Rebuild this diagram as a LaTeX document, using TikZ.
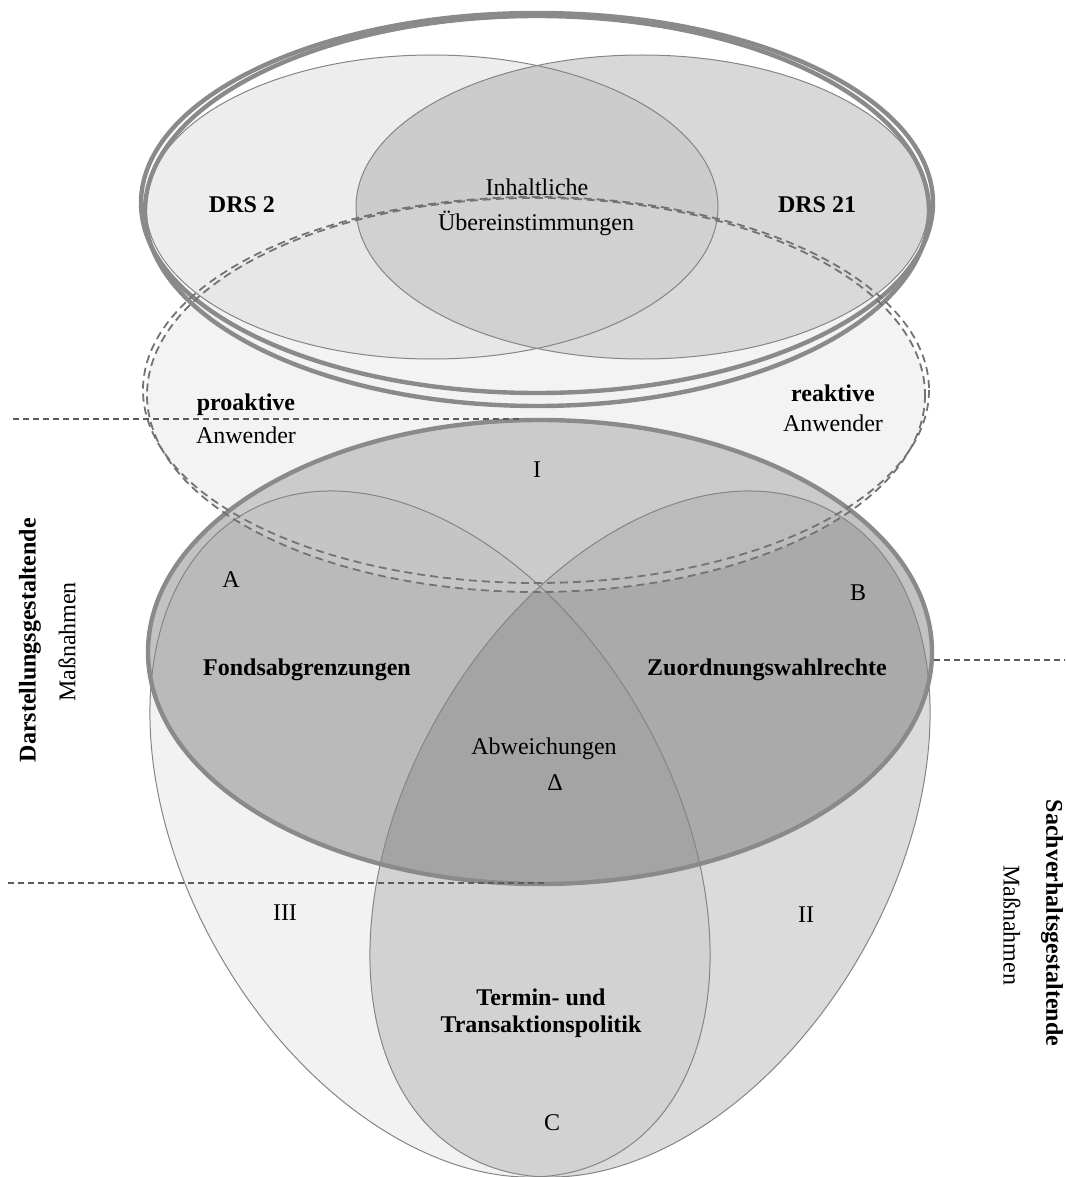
\documentclass[tikz,border=0pt]{standalone}
\usepackage{fontspec}
\setmainfont{Liberation Serif}

% fill tones (all fills are laid on with the same transparency)
\definecolor{fillA}{gray}{0.855}
\definecolor{fillB}{gray}{0.592}
\definecolor{fillBig}{gray}{0.318}
\definecolor{fillDrsL}{gray}{0.796}
\definecolor{fillDrsR}{gray}{0.561}
\definecolor{fillDash}{gray}{0.863}
% stroke tones
\definecolor{linegray}{gray}{0.52}
\definecolor{thickgray}{gray}{0.54}
\definecolor{dashgray}{gray}{0.45}
\definecolor{guidegray}{gray}{0.36}

\begin{document}
\begin{tikzpicture}[x=1pt,y=-1pt,
  every node/.style={inner sep=0pt, font=\fontsize{24}{28}\selectfont},
  bold/.style={font=\fontsize{24}{28}\selectfont\bfseries},
  veil/.style={fill opacity=0.35},
  thinline/.style={draw=linegray, line width=1pt},
  thickline/.style={draw=thickgray, line width=4.4pt},
  dashring/.style={draw=dashgray, line width=1.8pt, dash pattern=on 8pt off 5pt},
  guide/.style={draw=guidegray, line width=2pt, dash pattern=on 6pt off 4pt},
  tiltA/.style={rotate around={-60:(430,834)}},
  tiltB/.style={rotate around={60:(650,834)}},
]
\useasboundingbox (0,0) rectangle (1065,1177);

% ---- fills ----------------------------------------------------------
\fill[fillA, veil, tiltA] (430,834) ellipse (370.4 and 242.6);
\fill[fillB, veil, tiltB] (650,834) ellipse (370.4 and 242.6);
\fill[fillBig, veil] (540,652) ellipse (392 and 232);
\fill[fillDrsL, veil] (432,207) ellipse (286 and 152);
\fill[fillDrsR, veil] (642,207) ellipse (286 and 152);
\fill[fillDash, veil] (536,395) ellipse (390 and 197);

% ---- outlines -------------------------------------------------------
\draw[thinline, tiltA] (430,834) ellipse (370.4 and 242.6);
\draw[thinline, tiltB] (650,834) ellipse (370.4 and 242.6);
\draw[thinline] (432,207) ellipse (286 and 152);
\draw[thinline] (642,207) ellipse (286 and 152);

\draw[thickline] (540,652) ellipse (392 and 232);
\draw[thickline] (537,203) ellipse (396 and 190);
\draw[thickline] (537,211) ellipse (392 and 195);

\draw[dashring] (536,390) ellipse (393 and 193);
\draw[dashring] (536,395) ellipse (389 and 197);

% ---- dashed guide lines ---------------------------------------------
\coordinate (gTopL) at (13,419);
\coordinate (gTopR) at (519,419);
\coordinate (gBotL) at (8,883);
\coordinate (gBotR) at (548,883);
\coordinate (gMidL) at (934,660);
\coordinate (gMidR) at (1065,660);
\draw[guide] (gTopL) -- (gTopR);
\draw[guide] (gBotL) -- (gBotR);
\draw[guide] (gMidL) -- (gMidR);

% ---- labels ---------------------------------------------------------
\node[bold] (drsl) at (242,205) {DRS 2};
\node[bold] (drsr) at (817,205) {DRS 21};
\node (inh1) at (537,187) {Inhaltliche};
\node (inh2) at (536,223) {Übereinstimmungen};
\node[bold] (pro) at (246,405) {proaktive};
\node (proA) at (246,435) {Anwender};
\node[bold] (rea) at (833,393) {reaktive};
\node (reaA) at (833,423) {Anwender};
\node (rI) at (537,470) {I};
\node (rA) at (231,580) {A};
\node (rB) at (858,593) {B};
\node[bold] (fonds) at (307,670) {Fondsabgrenzungen};
\node[bold] (zuord) at (767,670) {Zuordnungswahlrechte};
\node (abw) at (544,749) {Abweichungen};
\node (delta) at (555,783) {Δ};
\node (rIII) at (285,913) {III};
\node (rII) at (806,915) {II};
\node[bold] (term1) at (541,997) {Termin- und};
\node[bold] (term2) at (541,1027) {Transaktionspolitik};
\node (rC) at (552,1123) {C};
\node[bold, rotate=90] (darst) at (30,640) {Darstellungsgestaltende};
\node[rotate=90] (massL) at (67,642) {Maßnahmen};
\node[bold, rotate=-90] (sach) at (1052,923) {Sachverhaltsgestaltende};
\node[rotate=-90] (massR) at (1012,925) {Maßnahmen};
\end{tikzpicture}
\end{document}
